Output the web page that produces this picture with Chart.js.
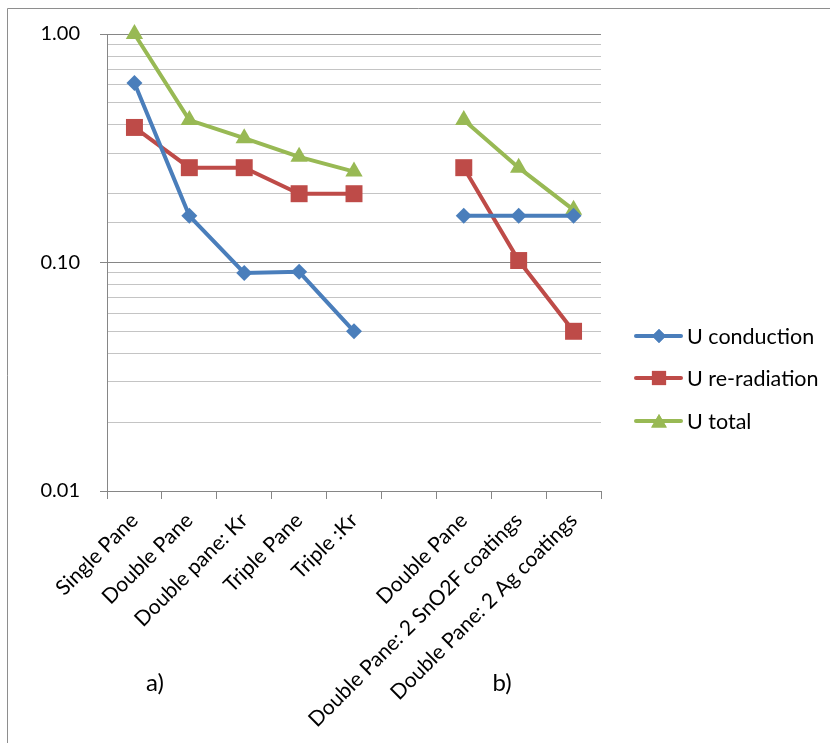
<!DOCTYPE html>
<html>
<head>
<meta charset="utf-8">
<style>
  html, body { margin: 0; padding: 0; background: #ffffff; }
  #wrap { width: 830px; height: 743px; position: relative; }
</style>
<script src="https://cdn.jsdelivr.net/npm/chart.js@4/dist/chart.umd.min.js"></script>
</head>
<body>
<div id="wrap"><canvas id="c" width="830" height="743"></canvas></div>
<script>
const categories = ['Single Pane', 'Double Pane', 'Double pane: Kr', 'Triple Pane', 'Triple :Kr', '', 'Double Pane', 'Double Pane: 2 SnO2F coatings', 'Double Pane: 2 Ag coatings'];
const uConduction = [0.61, 0.16, 0.09, 0.091, 0.05, null, 0.16, 0.16, 0.16];
const uReradiation = [0.39, 0.26, 0.26, 0.2, 0.2, null, 0.26, 0.102, 0.05];
const uTotal = [1.0, 0.42, 0.35, 0.29, 0.25, null, 0.42, 0.26, 0.17];
const seriesNames = ['U conduction', 'U re-radiation', 'U total'];
const yMajorLabels = [0.01, 0.1, 1];
const groupLabels = ['a)', 'b)'];

const FONT = 'Lato, "Liberation Sans", sans-serif';
const colors = ['#4A7EBB', '#BE4B48', '#98B954'];
const styles = ['rectRot', 'rect', 'triangle'];
const radii = [8, 12, 10];

function isMajor(v) {
  const l = Math.log10(v);
  return Math.abs(l - Math.round(l)) < 1e-6;
}

const framePlugin = {
  id: 'frame',
  beforeDraw(chart) {
    const ctx = chart.ctx;
    ctx.save();
    ctx.strokeStyle = '#8E8E8E';
    ctx.lineWidth = 1;
    ctx.beginPath();
    ctx.moveTo(7.5, 743);
    ctx.lineTo(7.5, 8.5);
    ctx.lineTo(830, 8.5);
    ctx.stroke();
    ctx.restore();
  },
  afterDraw(chart) {
    const ctx = chart.ctx;
    ctx.save();
    // legend
    const lx0 = 636, lx1 = 681, mx = 659, tx = 687;
    const ly = [336, 378, 421];
    const lr = [7, 10, 9];
    chart.data.datasets.forEach((ds, i) => {
      ctx.strokeStyle = ds.borderColor;
      ctx.lineWidth = 4;
      ctx.lineCap = 'round';
      ctx.beginPath();
      ctx.moveTo(lx0, ly[i]);
      ctx.lineTo(lx1, ly[i]);
      ctx.stroke();
      ctx.fillStyle = ds.pointBackgroundColor;
      Chart.helpers.drawPoint(ctx, {pointStyle: ds.pointStyle, radius: lr[i], borderWidth: 0, rotation: 0}, mx, ly[i] + (ds.pointStyle === 'triangle' ? 2 : 0));
      ctx.fill();
      ctx.fillStyle = '#000000';
      ctx.font = '21.5px ' + FONT;
      ctx.textAlign = 'left';
      ctx.textBaseline = 'middle';
      ctx.fillText(ds.label, tx, ly[i] + 1);
    });
    // group labels
    ctx.font = '24px ' + FONT;
    ctx.textAlign = 'center';
    ctx.textBaseline = 'middle';
    ctx.fillStyle = '#000000';
    ctx.fillText(groupLabels[0], 155, 683);
    ctx.fillText(groupLabels[1], 502, 683);
    ctx.restore();
  }
};

const seriesData = [uConduction, uReradiation, uTotal];

new Chart(document.getElementById('c'), {
  type: 'line',
  data: {
    labels: categories,
    datasets: seriesData.map((d, i) => ({
      label: seriesNames[i],
      data: d,
      borderColor: colors[i],
      backgroundColor: colors[i],
      pointBackgroundColor: colors[i],
      pointBorderColor: colors[i],
      pointBorderWidth: 0,
      pointStyle: styles[i],
      pointRadius: radii[i],
      pointHoverRadius: radii[i],
      borderWidth: 4,
      tension: 0,
      spanGaps: false,
      clip: false
    }))
  },
  options: {
    responsive: false,
    animation: false,
    devicePixelRatio: 1,
    layout: { padding: { left: 0, top: 34, right: 229, bottom: 0 } },
    plugins: {
      legend: { display: false },
      tooltip: { enabled: false }
    },
    scales: {
      x: {
        type: 'category',
        offset: true,
        grid: {
          display: true,
          offset: true,
          drawOnChartArea: false,
          drawTicks: true,
          tickLength: 8,
          color: '#868686',
          lineWidth: 1
        },
        border: { display: true, color: '#868686', width: 1 },
        ticks: {
          autoSkip: false,
          maxRotation: 45,
          minRotation: 45,
          padding: 9,
          color: '#000000',
          font: { family: FONT, size: 21 }
        },
        afterFit(scale) { scale.height = 252; }
      },
      y: {
        type: 'logarithmic',
        min: 0.01,
        max: 1,
        grid: {
          display: true,
          drawTicks: true,
          tickLength: 7,
          color: (c) => (c.tick && isMajor(c.tick.value)) ? '#868686' : '#C4C4C4',
          tickColor: (c) => (c.tick && isMajor(c.tick.value)) ? '#868686' : 'rgba(0,0,0,0)',
          lineWidth: 1
        },
        border: { display: true, color: '#868686', width: 1 },
        ticks: {
          autoSkip: false,
          padding: 20,
          color: '#000000',
          font: { family: FONT, size: 20 },
          callback: (v) => yMajorLabels.some(m => Math.abs(m - v) < 1e-9) ? Number(v).toFixed(2) : ''
        },
        afterFit(scale) { scale.width = 107; }
      }
    }
  },
  plugins: [framePlugin]
});
</script>
</body>
</html>
